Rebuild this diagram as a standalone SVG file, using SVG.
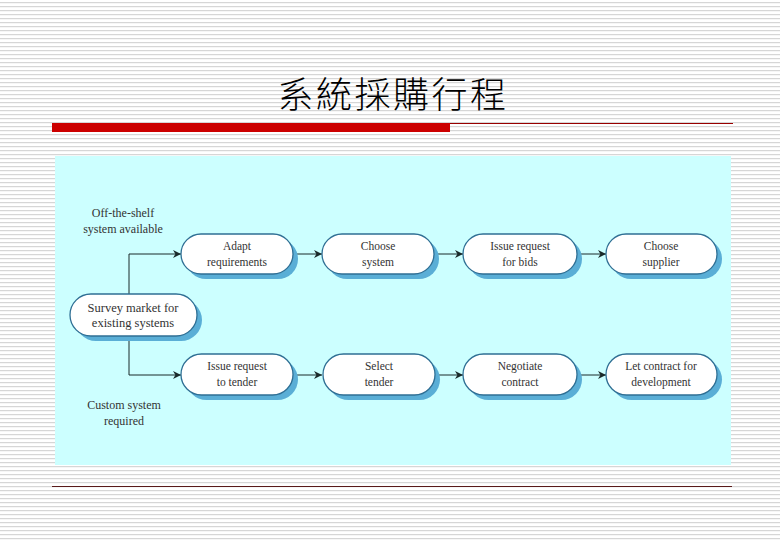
<svg xmlns="http://www.w3.org/2000/svg" width="780" height="540" viewBox="0 0 780 540">
<defs>
<pattern id="stripes" width="8" height="4" patternUnits="userSpaceOnUse">
<rect width="8" height="4" fill="#ffffff"/>
<rect y="2" width="8" height="1.2" fill="#d6d6d6"/>
</pattern>
<marker id="arr" viewBox="0 0 10 10" refX="10" refY="5" markerWidth="10" markerHeight="8" orient="auto" markerUnits="userSpaceOnUse">
<path d="M0,0 L10,5 L0,10 L3,5 Z" fill="#1a2a2a"/>
</marker>
</defs>
<style>
.sh{fill:#5aaed6;}
.nd{fill:#ffffff;stroke:#2f6f94;stroke-width:1.3;}
.t{font-family:"Liberation Serif","Times New Roman",serif;font-size:11.5px;fill:#333;text-anchor:middle;}
.lb{font-family:"Liberation Serif","Times New Roman",serif;font-size:12px;fill:#333;text-anchor:middle;}
.cn{fill:none;stroke:#1a2a2a;stroke-width:1;}
</style>
<rect width="780" height="540" fill="url(#stripes)"/>
<text x="393" y="108" font-family="'Noto Sans CJK TC','Noto Sans CJK SC',sans-serif" font-size="36" font-weight="300" fill="#000" text-anchor="middle" letter-spacing="2.5">系統採購行程</text>
<rect x="52" y="123" width="398" height="9" fill="#cc0000"/>
<line x1="450" y1="123.5" x2="733" y2="123.5" stroke="#990000" stroke-width="1"/>
<rect x="55" y="156" width="676" height="309" fill="#ccffff"/>
<line x1="52" y1="486.5" x2="732" y2="486.5" stroke="#5a1a1a" stroke-width="1.2"/>

<text class="lb" x="123" y="217">Off-the-shelf</text>
<text class="lb" x="123" y="233">system available</text>
<text class="lb" x="124" y="409">Custom system</text>
<text class="lb" x="124" y="425">required</text>

<g id="connectors">
<path class="cn" d="M129,294 V254 H181" marker-end="url(#arr)"/>
<path class="cn" d="M129,336 V375 H181" marker-end="url(#arr)"/>
<path class="cn" d="M293,254 H322" marker-end="url(#arr)"/>
<path class="cn" d="M434,254 H463" marker-end="url(#arr)"/>
<path class="cn" d="M577,254 H606" marker-end="url(#arr)"/>
<path class="cn" d="M293,375 H322" marker-end="url(#arr)"/>
<path class="cn" d="M435,375 H463" marker-end="url(#arr)"/>
<path class="cn" d="M577,375 H606" marker-end="url(#arr)"/>
</g>

<g id="survey">
<rect class="sh" x="75" y="299" width="127" height="42" rx="21"/>
<rect class="nd" x="70" y="294" width="127" height="42" rx="21"/>
<text class="t" x="133" y="312" style="font-size:12.5px">Survey market for</text>
<text class="t" x="133" y="327" style="font-size:12.5px">existing systems</text>
</g>
<g id="adapt">
<rect class="sh" x="186" y="239" width="112" height="40" rx="20"/>
<rect class="nd" x="181" y="234" width="112" height="40" rx="20"/>
<text class="t" x="237" y="250">Adapt</text>
<text class="t" x="237" y="266">requirements</text>
</g>
<g id="choose-system">
<rect class="sh" x="327" y="239" width="112" height="40" rx="20"/>
<rect class="nd" x="322" y="234" width="112" height="40" rx="20"/>
<text class="t" x="378" y="250">Choose</text>
<text class="t" x="378" y="266">system</text>
</g>
<g id="issue-bids">
<rect class="sh" x="468" y="239" width="114" height="40" rx="20"/>
<rect class="nd" x="463" y="234" width="114" height="40" rx="20"/>
<text class="t" x="520" y="250">Issue request</text>
<text class="t" x="520" y="266">for bids</text>
</g>
<g id="choose-supplier">
<rect class="sh" x="611" y="239" width="111" height="40" rx="20"/>
<rect class="nd" x="606" y="234" width="111" height="40" rx="20"/>
<text class="t" x="661" y="250">Choose</text>
<text class="t" x="661" y="266">supplier</text>
</g>
<g id="issue-tender">
<rect class="sh" x="186" y="359" width="112" height="41" rx="20.5"/>
<rect class="nd" x="181" y="354" width="112" height="41" rx="20.5"/>
<text class="t" x="237" y="370">Issue request</text>
<text class="t" x="237" y="386">to tender</text>
</g>
<g id="select-tender">
<rect class="sh" x="328" y="359" width="112" height="41" rx="20.5"/>
<rect class="nd" x="323" y="354" width="112" height="41" rx="20.5"/>
<text class="t" x="379" y="370">Select</text>
<text class="t" x="379" y="386">tender</text>
</g>
<g id="negotiate">
<rect class="sh" x="468" y="359" width="114" height="41" rx="20.5"/>
<rect class="nd" x="463" y="354" width="114" height="41" rx="20.5"/>
<text class="t" x="520" y="370">Negotiate</text>
<text class="t" x="520" y="386">contract</text>
</g>
<g id="let-contract">
<rect class="sh" x="611" y="359" width="111" height="41" rx="20.5"/>
<rect class="nd" x="606" y="354" width="111" height="41" rx="20.5"/>
<text class="t" x="661" y="370">Let contract for</text>
<text class="t" x="661" y="386">development</text>
</g>
</svg>
